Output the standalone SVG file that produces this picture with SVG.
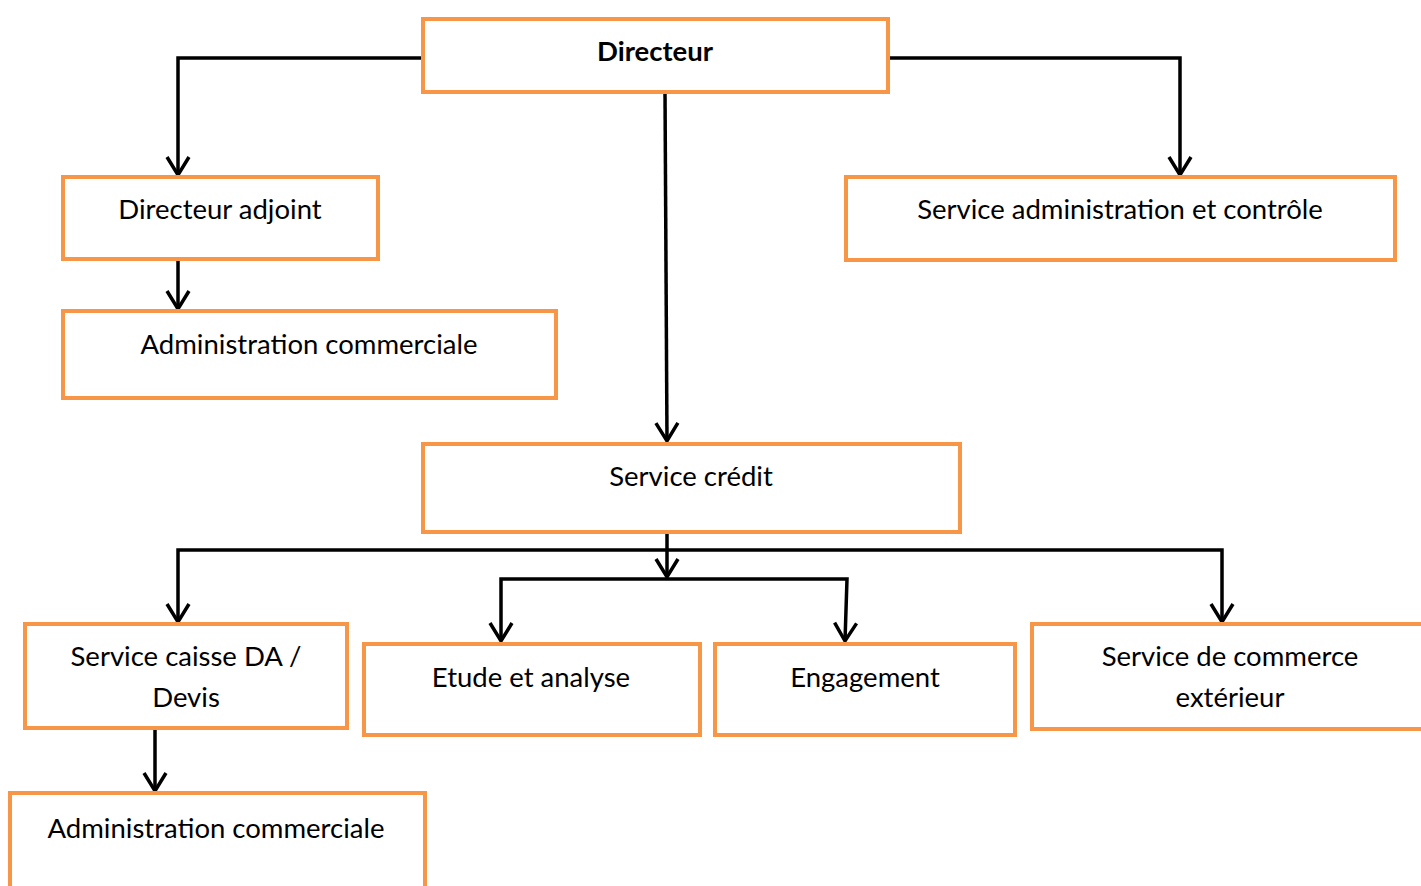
<svg xmlns="http://www.w3.org/2000/svg" width="1421" height="886" viewBox="0 0 1421 886">
<style>
.box{fill:#fff;stroke:#F79646;stroke-width:4}
.t{font-family:Lato,"Open Sans","Liberation Sans",sans-serif;font-size:27.5px;fill:#000;text-anchor:middle}
.b{font-weight:bold}
.c{fill:none;stroke:#000;stroke-width:3.5}
</style>
<defs>
<marker id="a" viewBox="0 0 26 26" refX="20" refY="13" markerWidth="26" markerHeight="26" markerUnits="userSpaceOnUse" orient="auto-start-reverse">
<path d="M2,2 L20,13 L2,24" fill="none" stroke="#000" stroke-width="3.5"/>
</marker>
</defs>
<rect width="1421" height="886" fill="#fff"/>
<g id="connectors">
<path class="c" d="M423,58 H178 V175" marker-end="url(#a)"/>
<path class="c" d="M888,58 H1180 V175" marker-end="url(#a)"/>
<path class="c" d="M665,92 L667,441" marker-end="url(#a)"/>
<path class="c" d="M178,259 V309" marker-end="url(#a)"/>
<path class="c" d="M178,622 V550 H1222 V622" marker-end="url(#a)" marker-start="url(#a)"/>
<path class="c" d="M667,532 V577" marker-end="url(#a)"/>
<path class="c" d="M501,641 V579 H847 L845,641" marker-end="url(#a)" marker-start="url(#a)"/>
<path class="c" d="M155,728 V791" marker-end="url(#a)"/>
</g>
<g id="directeur"><rect class="box" x="423" y="19" width="465" height="73"/><text class="t b" x="655" y="61">Directeur</text></g>
<g id="directeur-adjoint"><rect class="box" x="63" y="177" width="315" height="82"/><text class="t" x="220" y="219">Directeur adjoint</text></g>
<g id="admin-commerciale-1"><rect class="box" x="63" y="311" width="493" height="87"/><text class="t" x="309" y="354">Administration commerciale</text></g>
<g id="service-admin-controle"><rect class="box" x="846" y="177" width="549" height="83"/><text class="t" x="1120" y="219">Service administration et contrôle</text></g>
<g id="service-credit"><rect class="box" x="423" y="444" width="537" height="88"/><text class="t" x="691" y="486">Service crédit</text></g>
<g id="service-caisse"><rect class="box" x="25" y="624" width="322" height="104"/><text class="t" x="186" y="666">Service caisse DA /</text><text class="t" x="186" y="707">Devis</text></g>
<g id="etude-analyse"><rect class="box" x="364" y="644" width="336" height="91"/><text class="t" x="531" y="687">Etude et analyse</text></g>
<g id="engagement"><rect class="box" x="715" y="644" width="300" height="91"/><text class="t" x="865" y="687">Engagement</text></g>
<g id="commerce-exterieur"><rect class="box" x="1032" y="624" width="400" height="105"/><text class="t" x="1230" y="666">Service de commerce</text><text class="t" x="1230" y="707">extérieur</text></g>
<g id="admin-commerciale-2"><rect class="box" x="10" y="793" width="415" height="110"/><text class="t" x="216" y="838">Administration commerciale</text></g>
</svg>
